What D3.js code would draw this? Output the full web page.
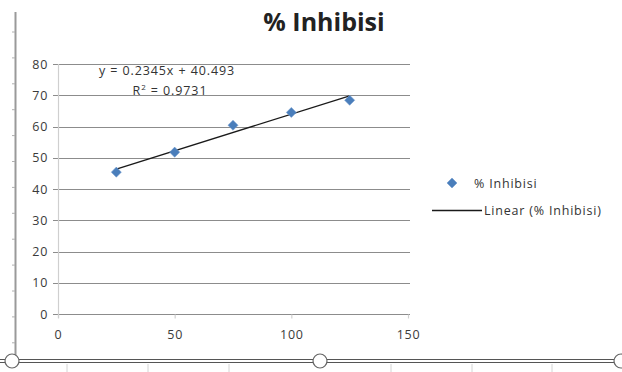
<!DOCTYPE html>
<html>
<head>
<meta charset="utf-8">
<script src="https://cdn.jsdelivr.net/npm/d3@7/dist/d3.min.js"></script>
<style>
  html, body { margin: 0; padding: 0; background: #fff; }
  svg { display: block; }
  text { font-family: "Open Sans", "Liberation Sans", sans-serif; }
</style>
</head>
<body>
<script>
// Concentration vs. % inhibition
const concentrations = [25, 50, 75, 100, 125];
const inhibition = [45.4, 51.8, 60.4, 64.5, 68.4];

// Linear trendline as reported on the chart
const trendSlope = 0.2345;
const trendIntercept = 40.493;
const trendR2 = 0.9731;

const xTicks = [0, 50, 100, 150];
const yTicks = [0, 10, 20, 30, 40, 50, 60, 70, 80];

const chartTitle = "% Inhibisi";
const seriesName = "% Inhibisi";
const trendName = "Linear (% Inhibisi)";

const W = 622, H = 372;
const svg = d3.select("body").append("svg").attr("width", W).attr("height", H);

const x = d3.scaleLinear().domain([0, 150]).range([58, 408]);
const y = d3.scaleLinear().domain([0, 80]).range([314, 64]);

const labelFont = { size: 12.5, spacing: 0.7, color: "#3a3a3a" };

// outer frame: left ruler edge with small marks
svg.append("line").attr("x1", 15.5).attr("x2", 15.5).attr("y1", 12).attr("y2", 356)
  .attr("stroke", "#9a9a9a").attr("stroke-width", 2);
d3.range(32, 350, 25.9).forEach(v => {
  svg.append("line").attr("x1", 12).attr("x2", 15).attr("y1", v).attr("y2", v)
    .attr("stroke", "#b0b0b0").attr("stroke-width", 1);
});

// bottom frame: double rule with handles
const rule = svg.append("g");
rule.append("line").attr("x1", 0).attr("x2", W).attr("y1", 359.5).attr("y2", 359.5)
  .attr("stroke", "#555").attr("stroke-width", 1);
rule.append("line").attr("x1", 0).attr("x2", W).attr("y1", 362.5).attr("y2", 362.5)
  .attr("stroke", "#555").attr("stroke-width", 1);
[67, 148, 229, 391, 472, 552].forEach(v => {
  rule.append("line").attr("x1", v).attr("x2", v).attr("y1", 364).attr("y2", 372)
    .attr("stroke", "#d4d4d4").attr("stroke-width", 1);
});
[12, 320, 621].forEach(cx => {
  rule.append("circle").attr("cx", cx).attr("cy", 361).attr("r", 7)
    .attr("fill", "#fff").attr("stroke", "#666").attr("stroke-width", 1.2);
});

// gridlines
const grid = svg.append("g");
grid.selectAll("line").data(yTicks).join("line")
  .attr("x1", 53).attr("x2", x(150) + 2)
  .attr("y1", d => Math.round(y(d)) + 0.5).attr("y2", d => Math.round(y(d)) + 0.5)
  .attr("stroke", "#8c8c8c").attr("stroke-width", 1.2);

// vertical axis line
svg.append("line").attr("x1", x(0) + 0.5).attr("x2", x(0) + 0.5)
  .attr("y1", y(80)).attr("y2", y(0) + 4)
  .attr("stroke", "#cfcfcf").attr("stroke-width", 1.2);

// y axis labels
const yAxis = d3.axisLeft(y).tickValues(yTicks).tickSize(0).tickPadding(0);
const yg = svg.append("g").attr("transform", "translate(48,0)").call(yAxis);
yg.select(".domain").remove();
yg.selectAll("text").attr("font-size", labelFont.size).attr("fill", labelFont.color)
  .attr("letter-spacing", labelFont.spacing)
  .attr("font-family", "'Open Sans', sans-serif");

// x axis labels and small ticks
const xAxis = d3.axisBottom(x).tickValues(xTicks).tickSize(4).tickPadding(12);
const xg = svg.append("g").attr("transform", `translate(0,${y(0) + 0.5})`).call(xAxis);
xg.select(".domain").remove();
xg.selectAll(".tick line").attr("stroke", "#d0d0d0").attr("stroke-width", 1.2);
xg.selectAll("text").attr("font-size", labelFont.size).attr("fill", labelFont.color)
  .attr("letter-spacing", labelFont.spacing)
  .attr("font-family", "'Open Sans', sans-serif");

// trendline
const xMin = d3.min(concentrations), xMax = d3.max(concentrations);
svg.append("line")
  .attr("x1", x(xMin)).attr("y1", y(trendSlope * xMin + trendIntercept))
  .attr("x2", x(xMax)).attr("y2", y(trendSlope * xMax + trendIntercept))
  .attr("stroke", "#1a1a1a").attr("stroke-width", 1.3);

// data markers
const diamond = d3.symbol().type(d3.symbolDiamond2).size(64);
svg.append("g").selectAll("path").data(concentrations.map((c, i) => [c, inhibition[i]]))
  .join("path")
  .attr("d", diamond)
  .attr("transform", d => `translate(${x(d[0])},${y(d[1])})`)
  .attr("fill", "#4a7ebb").attr("stroke", "#6f98cc").attr("stroke-width", 0.6);

// trendline equation
svg.append("text").attr("x", 167).attr("y", 75).attr("text-anchor", "middle")
  .attr("font-size", 12.5).attr("letter-spacing", 0.9).attr("fill", "#333")
  .text(`y = ${trendSlope}x + ${trendIntercept}`);
const r2 = svg.append("text").attr("x", 170).attr("y", 95).attr("text-anchor", "middle")
  .attr("font-size", 12.5).attr("letter-spacing", 0.9).attr("fill", "#333");
r2.append("tspan").text("R");
r2.append("tspan").attr("dy", -5).attr("font-size", 8).text("2");
r2.append("tspan").attr("dy", 5).text(` = ${trendR2}`);

// title
svg.append("text").attr("x", 324).attr("y", 31).attr("text-anchor", "middle")
  .attr("font-size", 25).attr("font-weight", "bold").attr("fill", "#222")
  .attr("font-family", "Lato, 'Open Sans', sans-serif")
  .text(chartTitle);

// legend
const lg = svg.append("g");
lg.append("path").attr("d", diamond).attr("transform", "translate(452,183)")
  .attr("fill", "#4a7ebb").attr("stroke", "#6f98cc").attr("stroke-width", 0.6);
lg.append("text").attr("x", 474).attr("y", 188).attr("font-size", 12.5)
  .attr("letter-spacing", 0.8).attr("fill", "#333")
  .text(seriesName);
lg.append("line").attr("x1", 432).attr("x2", 482).attr("y1", 210.5).attr("y2", 210.5)
  .attr("stroke", "#1a1a1a").attr("stroke-width", 1.3);
lg.append("text").attr("x", 484).attr("y", 215).attr("font-size", 12.5)
  .attr("letter-spacing", 0.8).attr("fill", "#333")
  .text(trendName);
</script>
</body>
</html>
